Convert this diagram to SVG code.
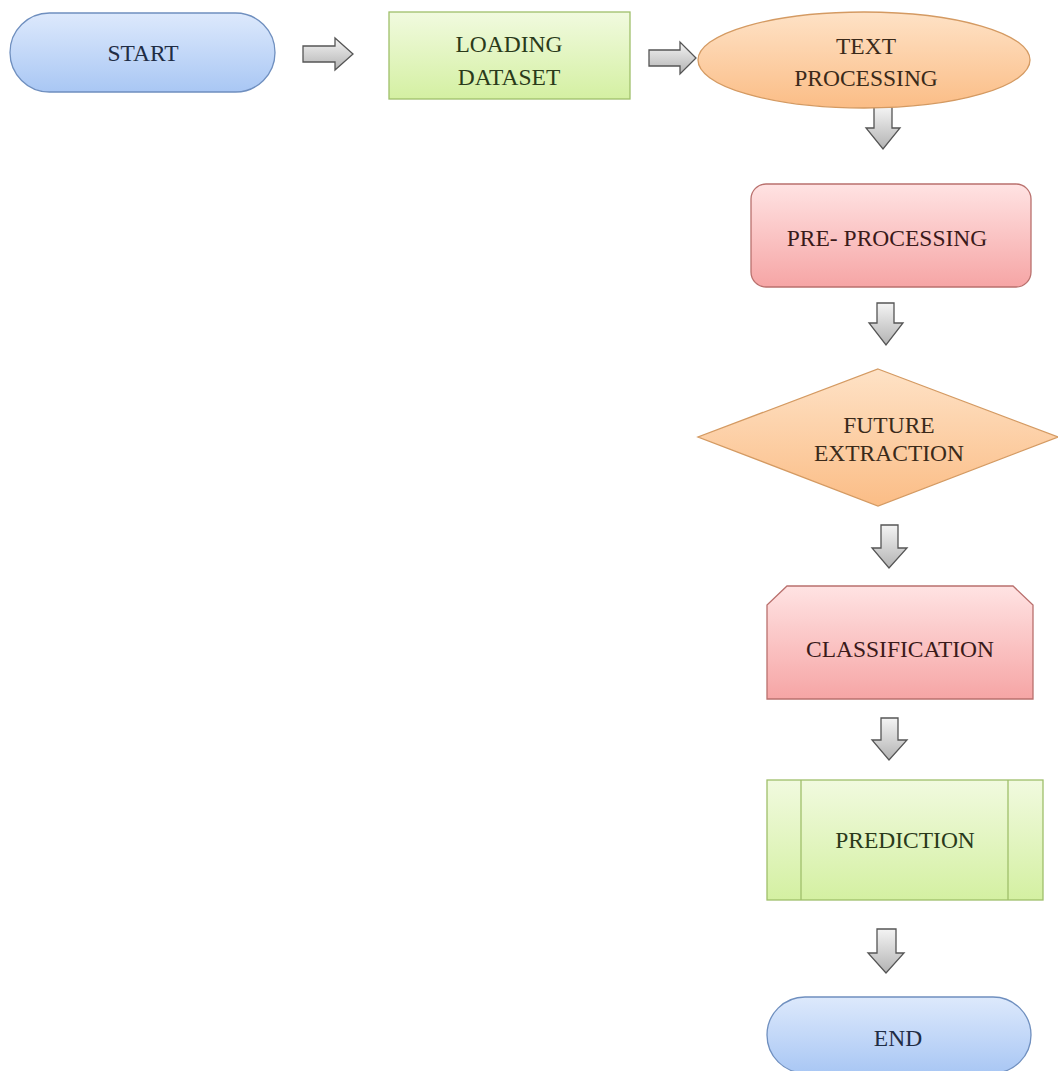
<svg xmlns="http://www.w3.org/2000/svg" width="1058" height="1071" viewBox="0 0 1058 1071">
<style>
text{font-family:"Liberation Serif","Times New Roman",serif;font-size:23.5px;text-anchor:middle;dominant-baseline:central}
.blue{fill:url(#gBlue);stroke:#6f8fbf;stroke-width:1.3}
.green{fill:url(#gGreen);stroke:#9fbf6a;stroke-width:1.3}
.orange{fill:url(#gOrange);stroke:#d49a62;stroke-width:1.3}
.pink{fill:url(#gPink);stroke:#b9706d;stroke-width:1.3}
.arr{fill:url(#gArr);stroke:#555;stroke-width:1.3;stroke-linejoin:miter}
.tb{fill:#1f2d45}.tg{fill:#2a3a1a}.to{fill:#3a2a1a}.tp{fill:#3a1a1a}
</style>
<defs>
<linearGradient id="gBlue" x1="0" y1="0" x2="0" y2="1"><stop offset="0" stop-color="#dde9fc"/><stop offset="1" stop-color="#a9c7f4"/></linearGradient>
<linearGradient id="gGreen" x1="0" y1="0" x2="0" y2="1"><stop offset="0" stop-color="#f1fadf"/><stop offset="1" stop-color="#d4f0a2"/></linearGradient>
<linearGradient id="gOrange" x1="0" y1="0" x2="0" y2="1"><stop offset="0" stop-color="#fee2c6"/><stop offset="1" stop-color="#fbbd86"/></linearGradient>
<linearGradient id="gPink" x1="0" y1="0" x2="0" y2="1"><stop offset="0" stop-color="#ffe3e3"/><stop offset="1" stop-color="#f6a5a5"/></linearGradient>
<linearGradient id="gArr" x1="0" y1="0" x2="0" y2="1"><stop offset="0" stop-color="#f4f4f4"/><stop offset="1" stop-color="#b3b3b3"/></linearGradient>
</defs>

<g id="connectors">
<path class="arr" d="M303,46 H335 V38 L353,54 L335,70 V62 H303 Z"/>
<path class="arr" d="M649,50 H680 V42 L696,58 L680,74 V66 H649 Z"/>
<path class="arr" d="M874,107 H892 V128 H900 L883,149 L866,128 H874 Z"/>
<path class="arr" d="M877,303 H894 V323 H903 L886,345 L869,323 H877 Z"/>
<path class="arr" d="M881,525 H898 V548 H907 L889,568 L872,548 H881 Z"/>
<path class="arr" d="M881,718 H898 V740 H907 L889,760 L872,740 H881 Z"/>
<path class="arr" d="M877,929 H896 V953 H904 L886,973 L868,953 H877 Z"/>
</g>

<g id="start">
<rect class="blue" x="10" y="13" width="265" height="79" rx="39.5"/>
<text class="tb" x="143" y="53">START</text>
</g>

<g id="loading-dataset">
<rect class="green" x="389" y="12" width="241" height="87"/>
<text class="tg" x="509" y="44">LOADING</text>
<text class="tg" x="509" y="77">DATASET</text>
</g>

<g id="text-processing">
<ellipse class="orange" cx="864" cy="60" rx="166" ry="48"/>
<text class="to" x="866" y="46">TEXT</text>
<text class="to" x="866" y="78">PROCESSING</text>
</g>

<g id="pre-processing">
<rect class="pink" x="751" y="184" width="280" height="103" rx="15"/>
<text class="tp" x="887" y="238">PRE- PROCESSING</text>
</g>

<g id="future-extraction">
<polygon class="orange" points="878,369 1058,437 878,506 698,437"/>
<text class="to" x="889" y="425">FUTURE</text>
<text class="to" x="889" y="453">EXTRACTION</text>
</g>

<g id="classification">
<polygon class="pink" points="787,586 1013,586 1033,605 1033,699 767,699 767,605"/>
<text class="tp" x="900" y="649">CLASSIFICATION</text>
</g>

<g id="prediction">
<rect class="green" x="767" y="780" width="276" height="120"/>
<line x1="801" y1="780" x2="801" y2="900" stroke="#9fbf6a" stroke-width="1.3"/>
<line x1="1008" y1="780" x2="1008" y2="900" stroke="#9fbf6a" stroke-width="1.3"/>
<text class="tg" x="905" y="840">PREDICTION</text>
</g>

<g id="end">
<rect class="blue" x="767" y="997" width="264" height="76" rx="38"/>
<text class="tb" x="898" y="1038">END</text>
</g>
</svg>
